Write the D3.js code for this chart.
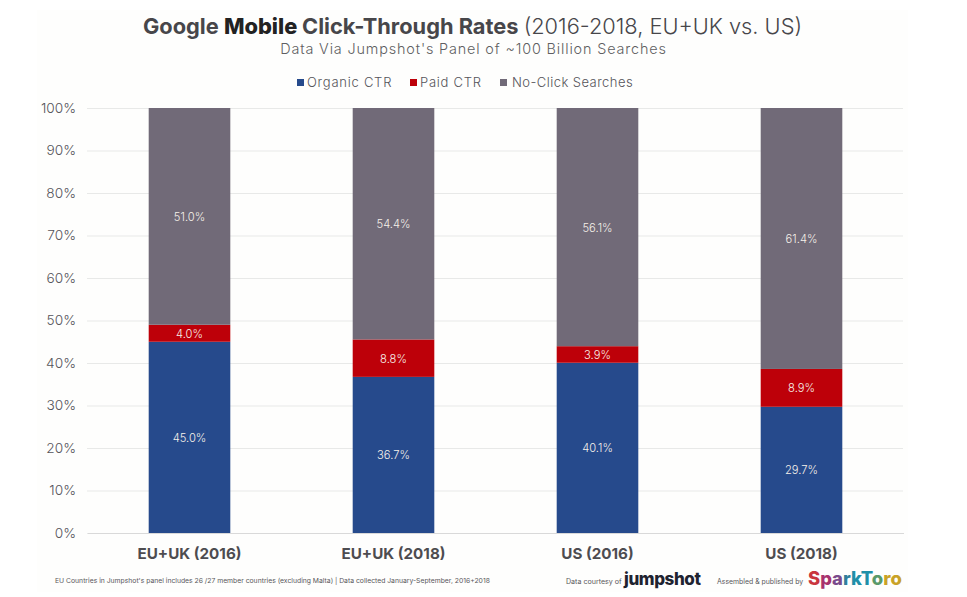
<!DOCTYPE html>
<html><head><meta charset="utf-8">
<script src="https://cdn.jsdelivr.net/npm/d3@7"></script>
<style>html,body{margin:0;background:#fff}svg{display:block}text{font-family:Inter,"Open Sans",sans-serif}</style>
</head><body><div id="chart"></div>
<script>
const categories=["EU+UK (2016)","EU+UK (2018)","US (2016)","US (2018)"];
const seriesNames=["Organic CTR","Paid CTR","No-Click Searches"];
const organic=[45.0,36.7,40.1,29.7];
const paid=[4.0,8.8,3.9,8.9];
const noClick=[51.0,54.4,56.1,61.4];
const colors=["#264a8c","#bd0009","#716a78"];
const yTicks=[0,10,20,30,40,50,60,70,80,90,100];
const sparkLetters=["S","p","a","r","k","T","o","r","o"];
const sparkColors=["#c9353f","#a8326e","#7a4a8c","#2f7f9c","#1f8fa8","#1f8fa8","#5a9a6a","#c9a227","#c9a227"];

const W=967,H=597;
const svg=d3.select("#chart").append("svg").attr("width",W).attr("height",H);
svg.append("rect").attr("x",37).attr("y",10).attr("width",871).attr("height",582).attr("fill","#fefefd");

const x=d3.scaleBand().domain(categories).range([87.5,903.5]).paddingInner(0.6).paddingOuter(0.3);
const y=d3.scaleLinear().domain([0,100]).range([533,108]);
const rows=categories.map((c,i)=>({cat:c,[seriesNames[0]]:organic[i],[seriesNames[1]]:paid[i],[seriesNames[2]]:noClick[i]}));
const stacked=d3.stack().keys(seriesNames).offset(d3.stackOffsetExpand)(rows);

// title
const t=svg.append("text").attr("x",472.5).attr("y",33.5).attr("text-anchor","middle").attr("font-size",21.8).attr("fill","#47464a");
t.append("tspan").attr("font-weight",700).text("Google ");
t.append("tspan").attr("font-weight",800).attr("fill","#222").text("Mobile ");
t.append("tspan").attr("font-weight",700).text("Click-Through Rates ");
t.append("tspan").attr("font-weight",300).text("(2016-2018, EU+UK vs. US)");
svg.append("text").attr("x",473.5).attr("y",54).attr("text-anchor","middle").attr("font-size",14.4).attr("letter-spacing",0.85).attr("fill","#5f5e62").attr("font-weight",300).text("Data Via Jumpshot's Panel of ~100 Billion Searches");

// legend
const legendX=[297,410,500];
const lg=svg.append("g").selectAll("g").data(seriesNames).join("g").attr("transform",(d,i)=>`translate(${legendX[i]},0)`);
lg.append("rect").attr("y",79).attr("width",7).attr("height",7).attr("fill",(d,i)=>colors[i]);
lg.append("text").attr("x",(d,i)=>i==2?12:10).attr("y",87).attr("font-size",13).attr("font-weight",300).attr("letter-spacing",(d,i)=>i==2?0.45:0.75).attr("fill","#55545a").text(d=>d);

// grid + y axis
const yAxis=d3.axisLeft(y).tickValues(yTicks).tickFormat(d=>d+"%").tickSize(-(903-87)).tickPadding(11);
const ga=svg.append("g").attr("transform","translate(87,0)").call(yAxis);
ga.select(".domain").remove();
ga.selectAll("line").attr("stroke","#e8e9e8").attr("stroke-width",1);
ga.selectAll("text").attr("font-size",13.7).attr("font-weight",300).attr("fill","#55545a");

// bars
const layers=svg.append("g").selectAll("g").data(stacked).join("g").attr("fill",(d,i)=>colors[i]);
layers.selectAll("rect").data(d=>d).join("rect")
 .attr("x",d=>x(d.data.cat)).attr("width",x.bandwidth())
 .attr("y",d=>y(d[1]*100)).attr("height",d=>y(d[0]*100)-y(d[1]*100));
layers.selectAll("text").data(d=>d.map(v=>({v,key:d.key}))).join("text")
 .attr("x",d=>x(d.v.data.cat)+x.bandwidth()/2)
 .attr("y",d=>y((d.v[0]+d.v[1])*50)+4.5)
 .attr("text-anchor","middle").attr("font-size",11.2).attr("font-weight",300).attr("fill","#f6f1ea")
 .text(d=>d.v.data[d.key].toFixed(1)+"%");

// x axis labels
const xa=svg.append("g").attr("transform","translate(0,533)").call(d3.axisBottom(x).tickSize(0).tickPadding(15));
xa.select(".domain").attr("stroke","#d9d9d9");
xa.selectAll("text").attr("font-size",15.2).attr("font-weight",700).attr("fill","#4d4c50");

// footer
svg.append("text").attr("x",55).attr("y",583).attr("font-size",6.8).attr("fill","#58575b").text("EU Countries in Jumpshot's panel includes 26 /27 member countries (excluding Malta) | Data collected January-September, 2016+2018");
svg.append("text").attr("x",566).attr("y",584).attr("font-size",7.1).attr("fill","#58575b").text("Data courtesy of");
svg.append("text").attr("x",624).attr("y",585).attr("font-size",17).attr("font-weight",800).attr("letter-spacing",-0.4).attr("fill","#1e2330").text("jumpshot");
svg.append("text").attr("x",717).attr("y",584).attr("font-size",6.9).attr("fill","#58575b").text("Assembled & published by");
const sp=svg.append("text").attr("x",808).attr("y",585).attr("font-size",18.4).attr("font-weight",800);
sp.selectAll("tspan").data(sparkLetters).join("tspan").attr("fill",(d,i)=>sparkColors[i]).text(d=>d);
</script></body></html>
